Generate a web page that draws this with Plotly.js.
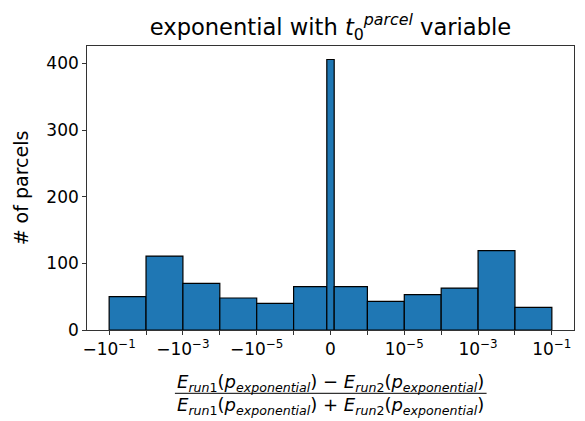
<!DOCTYPE html>
<html>
<head>
<meta charset="utf-8">
<script src="https://cdn.plot.ly/plotly-3.0.1.min.js"></script>
<style>html,body{margin:0;padding:0;background:#fff;}#chart{width:585px;height:421px;}</style>
</head>
<body>
<div id="chart"></div>
<script>
// Bin edges (real values) of the symlog histogram, and counts per bin
const binEdges = [-1e-1, -1e-2, -1e-3, -1e-4, -1e-5, -1e-6, -1e-7, 1e-7, 1e-6, 1e-5, 1e-4, 1e-3, 1e-2, 1e-1];
const counts = [50, 111, 70, 48, 40, 65, 406, 65, 43, 53, 63, 119, 34];
// Tick values (real) and labels
const tickValues = [-1e-1, -1e-2, -1e-3, -1e-4, -1e-5, -1e-6, 0, 1e-6, 1e-5, 1e-4, 1e-3, 1e-2, 1e-1];
const tickLabels = ["−10<sup>−1</sup>", "", "−10<sup>−3</sup>", "", "−10<sup>−5</sup>", "", "0", "", "10<sup>−5</sup>", "", "10<sup>−3</sup>", "", "10<sup>−1</sup>"];
const yTicks = [0, 100, 200, 300, 400];
const titleText = 'exponential with <i>t</i><sub>0</sub><sup><i>parcel</i></sup> variable';
const numeratorText = '<i>E</i><sub><i>run</i>1</sub>(<i>p</i><sub><i>exponential</i></sub>) − <i>E</i><sub><i>run</i>2</sub>(<i>p</i><sub><i>exponential</i></sub>)';
const denominatorText = '<i>E</i><sub><i>run</i>1</sub>(<i>p</i><sub><i>exponential</i></sub>) + <i>E</i><sub><i>run</i>2</sub>(<i>p</i><sub><i>exponential</i></sub>)';
const yLabel = '# of parcels';

// symmetric-log scale (linthresh 1e-6, one decade per linear half)
const LINTHRESH = 1e-6;
function symlog(v) {
  const a = Math.abs(v);
  if (a <= LINTHRESH) return v / LINTHRESH;
  return Math.sign(v) * (1 + Math.log10(a / LINTHRESH));
}

const tEdges = binEdges.map(symlog);
const centers = [], widths = [];
for (let i = 0; i < counts.length; i++) {
  centers.push((tEdges[i] + tEdges[i + 1]) / 2);
  widths.push(tEdges[i + 1] - tEdges[i]);
}

const trace = {
  type: 'bar',
  x: centers,
  y: counts,
  width: widths,
  marker: {color: '#1f77b4', line: {color: '#000000', width: 1.2}},
  hoverinfo: 'x+y'
};

const span = symlog(1e-1) - symlog(-1e-1);
const xr = [symlog(-1e-1) - 0.05 * span, symlog(1e-1) + 0.05 * span];
const yr = [0, Math.max(...counts) * 1.05];

const PLOT_H = 284, PLOT_BOTTOM = 330;
const py = p => (PLOT_BOTTOM - p) / PLOT_H;   // pixel row -> paper y

const fracFont = {family: 'DejaVu Sans', size: 18, color: '#000'};

const layout = {
  width: 585, height: 421,
  margin: {l: 87, r: 10.5, t: 46, b: 91},
  paper_bgcolor: '#ffffff', plot_bgcolor: '#ffffff',
  font: {family: 'DejaVu Sans', color: '#000000'},
  showlegend: false,
  bargap: 0,
  title: {
    text: titleText,
    font: {family: 'DejaVu Sans', size: 22.6, color: '#000000'},
    x: 0.5, xref: 'paper', xanchor: 'center',
    y: 1 - 27 / 421, yref: 'container', yanchor: 'middle'
  },
  xaxis: {
    range: xr,
    tickmode: 'array',
    tickvals: tickValues.map(symlog),
    ticktext: tickLabels,
    ticks: 'outside', ticklen: 4, tickwidth: 0.8, tickcolor: '#000',
    tickfont: {family: 'DejaVu Sans', size: 17, color: '#000'},
    showline: true, mirror: true, linecolor: '#000', linewidth: 0.8,
    showgrid: false, zeroline: false
  },
  yaxis: {
    range: yr,
    tickmode: 'array', tickvals: yTicks,
    ticks: 'outside', ticklen: 4, tickwidth: 0.8, tickcolor: '#000',
    tickfont: {family: 'DejaVu Sans', size: 17, color: '#000'},
    showline: true, mirror: true, linecolor: '#000', linewidth: 0.8,
    showgrid: false, zeroline: false,
    title: {text: yLabel, font: {family: 'DejaVu Sans', size: 19, color: '#000'}, standoff: 12}
  },
  annotations: [
    {text: numeratorText, xref: 'paper', yref: 'paper', x: 0.5, y: py(382.5),
     xanchor: 'center', yanchor: 'middle', showarrow: false, font: fracFont},
    {text: denominatorText, xref: 'paper', yref: 'paper', x: 0.5, y: py(405.8),
     xanchor: 'center', yanchor: 'middle', showarrow: false, font: fracFont}
  ],
  shapes: [{
    type: 'line', xref: 'paper', yref: 'paper',
    x0: (175 - 87) / 487.5, x1: (487 - 87) / 487.5,
    y0: py(393.3), y1: py(393.3),
    line: {color: '#000', width: 1}
  }]
};

Plotly.newPlot('chart', [trace], layout, {displayModeBar: false, staticPlot: true});
</script>
</body>
</html>
